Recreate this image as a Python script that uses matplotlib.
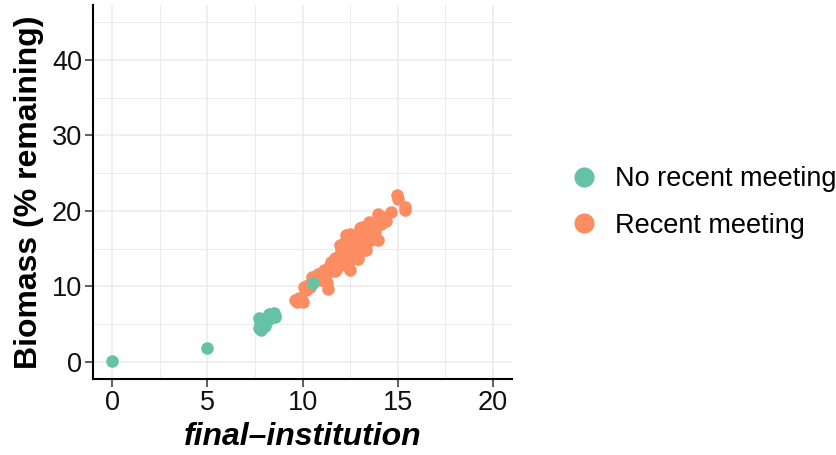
import matplotlib
matplotlib.use("Agg")
import matplotlib.pyplot as plt
from matplotlib.lines import Line2D
from matplotlib.ticker import MultipleLocator

plt.rcParams['font.family'] = ['Liberation Sans', 'DejaVu Sans']

teal = "#66C2A5"
orange = "#FC8D62"

labels = ["No recent meeting", "Recent meeting"]

no_meet_x = [0.0, 5.0, 7.7, 7.75, 7.7, 7.8, 7.9, 7.85, 7.95, 8.0, 8.1, 8.2, 8.3, 8.4,
             8.5, 8.55, 8.57, 8.0, 8.25, 10.54]
no_meet_y = [0.15, 1.8, 5.8, 5.3, 4.5, 4.2, 4.6, 5.0, 5.6, 5.2, 5.8, 5.5, 6.0, 6.2,
             6.5, 5.9, 6.1, 4.8, 6.3, 10.46]

meet_x = [9.6, 9.7, 9.9, 10.0, 9.8, 10.05, 10.2, 10.3, 10.4, 10.5, 10.7, 10.8, 10.9,
          11.0, 11.1, 11.2, 11.33, 11.3, 11.4, 11.5, 11.5, 11.6, 11.7, 11.8, 11.9,
          11.95, 12.0, 12.1, 12.2, 12.2, 12.3, 12.4, 12.47, 12.5, 12.6, 12.6, 12.7,
          12.8, 12.9, 12.9, 13.0, 13.0, 13.1, 13.1, 13.2, 13.35, 13.3, 13.4, 13.5,
          13.5, 13.6, 13.7, 13.8, 13.9, 13.96, 13.96, 14.1, 14.2, 14.3, 14.4, 14.66,
          14.98, 15.0, 15.36, 15.36, 12.0, 11.7, 12.3, 12.5, 10.6]
meet_y = [8.2, 8.0, 8.4, 7.95, 8.5, 9.9, 9.5, 10.2, 9.9, 11.2, 11.0, 11.6, 10.8,
          11.5, 12.2, 11.0, 9.7, 10.5, 12.6, 12.0, 13.2, 12.8, 13.8, 12.5, 14.0,
          15.45, 13.0, 14.5, 13.5, 15.8, 12.8, 14.2, 12.15, 15.5, 13.6, 16.5, 14.8,
          16.1, 13.7, 15.6, 17.7, 14.5, 16.8, 17.9, 15.5, 14.8, 16.3, 17.5, 18.5,
          16.0, 17.0, 18.0, 17.2, 18.8, 16.1, 19.65, 18.3, 18.8, 19.2, 18.6, 19.87,
          22.08, 21.6, 20.45, 20.1, 14.8, 12.0, 16.8, 16.9, 10.9]

x_ticks = [0, 5, 10, 15, 20]
y_ticks = [0, 10, 20, 30, 40]

fig = plt.figure(figsize=(8.37, 4.55), dpi=100)
ax = fig.add_axes([0.1115, 0.167, 0.500, 0.822])

ax.scatter(meet_x, meet_y, s=82, color=orange, linewidths=0, zorder=3)
ax.scatter(no_meet_x, no_meet_y, s=82, color=teal, linewidths=0, zorder=4)

ax.set_xlim(-1, 21)
ax.set_ylim(-2.25, 47.25)
ax.set_xticks(x_ticks)
ax.set_yticks(y_ticks)
ax.xaxis.set_minor_locator(MultipleLocator(2.5))
ax.yaxis.set_minor_locator(MultipleLocator(5))
ax.grid(which='major', color='#EBEBEB', linewidth=1.1, zorder=0)
ax.grid(which='minor', color='#EBEBEB', linewidth=0.7, zorder=0)
ax.set_axisbelow(True)

for s in ['top', 'right']:
    ax.spines[s].set_visible(False)
for s in ['left', 'bottom']:
    ax.spines[s].set_linewidth(1.5)
    ax.spines[s].set_color('black')

ax.tick_params(which='major', length=5.5, width=1.1, color='#333333',
               labelsize=19.5, labelcolor='#111111', pad=2.5)
ax.tick_params(which='minor', length=0)

ax.set_xlabel("final\u2013institution", fontsize=23, fontweight='bold',
              fontstyle='italic', labelpad=4)
ax.set_ylabel("Biomass (% remaining)", fontsize=23, fontweight='bold', labelpad=6)

handles = [Line2D([0], [0], marker='o', linestyle='none', markersize=14.5,
                  markerfacecolor=teal, markeredgewidth=0),
           Line2D([0], [0], marker='o', linestyle='none', markersize=14.5,
                  markerfacecolor=orange, markeredgewidth=0)]
fig.legend(handles, labels, loc='center left', bbox_to_anchor=(0.665, 0.555),
           frameon=False, fontsize=19.5, handletextpad=0.55, labelspacing=0.77,
           handlelength=1.2, borderaxespad=0)

fig.savefig("out.png", dpi=100)
